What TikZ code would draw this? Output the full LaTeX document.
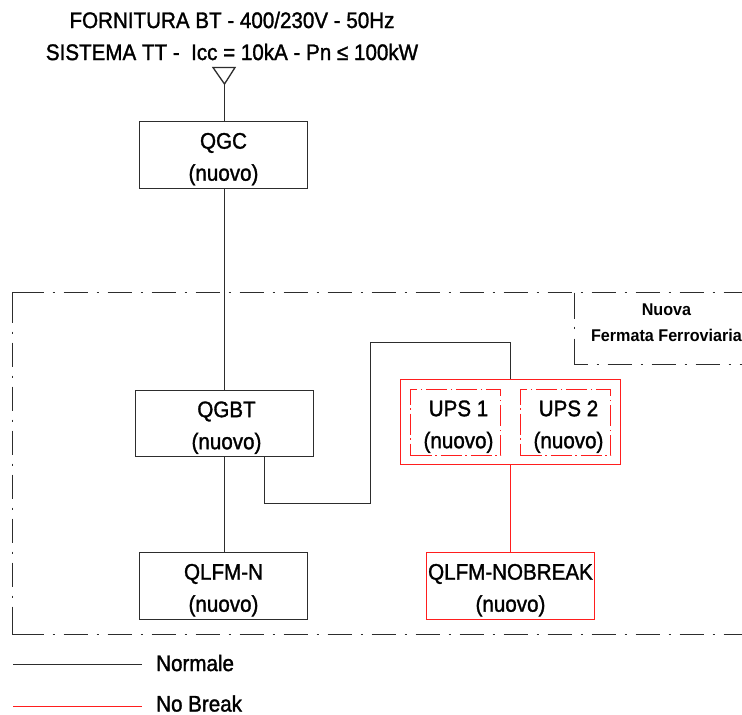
\documentclass[tikz,border=0pt]{standalone}
\usepackage{fontspec}
\setmainfont{Liberation Sans}
\newfontfamily\heavy[FakeStretch=0.915,FakeBold=1.4]{Liberation Sans}
\newfontfamily\heavyb[FakeStretch=0.95]{Liberation Sans Bold}
\definecolor{nbred}{RGB}{255,30,30}
\definecolor{ink}{RGB}{45,45,45}
\newcommand{\topfill}{\rule{0pt}{24pt}}
\tikzset{
  x=1pt,y=-1pt,
  wire/.style={draw=ink,line width=1.6pt},
  redwire/.style={draw=nbred,line width=1.6pt},
  panel/.style={draw=ink,line width=1.6pt,rectangle,minimum width=168pt,minimum height=67pt,inner sep=0pt,align=center,font=\heavy\fontsize{22.5}{32}\selectfont},
  redpanel/.style={panel,draw=nbred},
  upsbox/.style={panel,draw=nbred,minimum width=90pt,minimum height=66pt,dash pattern=on 21pt off 3.5pt on 1.5pt off 4pt},
  frameline/.style={draw=ink,line width=1.6pt,dash pattern=on 24pt off 9pt on 2pt off 9pt},
  legendtext/.style={anchor=west,inner sep=0pt,font=\heavy\fontsize{22.5}{24}\selectfont},
  titletext/.style={align=center,inner sep=0pt,font=\heavy\fontsize{22.5}{32}\selectfont}
}
\begin{document}
\begin{tikzpicture}
\useasboundingbox (0,0) rectangle (742,715);
\fill[white] (0,0) rectangle (742,715);
% frame
\draw[frameline,dash phase=37] (12.5,292.5) -- (742,292.5);
\draw[frameline,dash phase=37] (12.5,634.5) -- (742,634.5);
\draw[frameline,dash phase=38] (12.5,292.5) -- (12.5,634.5);
\draw[draw=ink,line width=1.6pt,line join=miter] (12.5,300) -- (12.5,292.5) -- (20,292.5);
\draw[draw=ink,line width=1.6pt,line join=miter] (12.5,627) -- (12.5,634.5) -- (20,634.5);
\draw[frameline,dash pattern=on 26pt off 8pt on 2pt off 10pt] (574.5,292.5) -- (574.5,364.5);
\draw[frameline,dash phase=11] (574.5,364.5) -- (742,364.5);
\node[inner sep=0pt,align=center,font=\heavyb\fontsize{17}{26}\selectfont] (lab) at (666.5,323) {Nuova\\Fermata Ferroviaria};
% title
\node[titletext] (title) at (232,36) {FORNITURA BT - 400/230V - 50Hz\\SISTEMA TT -\ \ Icc = 10kA - Pn ≤ 100kW};
% boxes
\node[panel] (qgc) at (223.5,155) {\topfill QGC\\(nuovo)};
\node[panel,minimum width=178pt,minimum height=66pt] (qgbt) at (224.5,423.5) {\topfill\hspace*{4pt}QGBT\\\hspace*{4pt}(nuovo)};
\node[panel] (qlfmn) at (223.5,586) {\topfill QLFM-N\\(nuovo)};
\node[redpanel] (qlfmnb) at (510.5,586) {\topfill QLFM-NOBREAK\\(nuovo)};
\node[draw=nbred,line width=1.6pt,rectangle,minimum width=220pt,minimum height=85pt,inner sep=0pt] (upsall) at (510.5,422) {};
\node[upsbox] (ups1) at (455.5,422.5) {\topfill\hspace*{6pt}UPS 1\\\hspace*{6pt}(nuovo)};
\node[upsbox] (ups2) at (565.5,422.5) {\topfill\hspace*{6pt}UPS 2\\\hspace*{6pt}(nuovo)};
% source triangle
\coordinate (tl) at (213,67.5);
\coordinate (tr) at (235,67.5);
\coordinate (tip) at (224.5,84);
\draw[ink,line width=1.3pt] (tl) -- (tr) -- (tip) -- cycle;
% connectors
\draw[wire] (tip) -- (tip |- qgc.north);
\draw[wire] (tip |- qgc.south) -- (tip |- qgbt.north);
\draw[wire] (tip |- qgbt.south) -- (tip |- qlfmn.north);
\coordinate (b1) at (264.5,503.5);
\coordinate (b2) at (370.5,503.5);
\coordinate (b3) at (370.5,342.5);
\coordinate (b4) at (510.5,342.5);
\draw[wire] (b1 |- qgbt.south) -- (b1) -- (b2) -- (b3) -- (b4) -- (b4 |- upsall.north);
\draw[redwire] (b4 |- upsall.south) -- (b4 |- qlfmnb.north);
% legend
\coordinate (la) at (13,664.5);
\coordinate (lb) at (142,664.5);
\coordinate (lc) at (13,706.5);
\coordinate (ld) at (142,706.5);
\draw[wire] (la) -- (lb);
\draw[redwire] (lc) -- (ld);
\node[legendtext] (normale) at (156,663) {Normale};
\node[legendtext] (nobreak) at (156,703.5) {No Break};
\end{tikzpicture}
\end{document}
